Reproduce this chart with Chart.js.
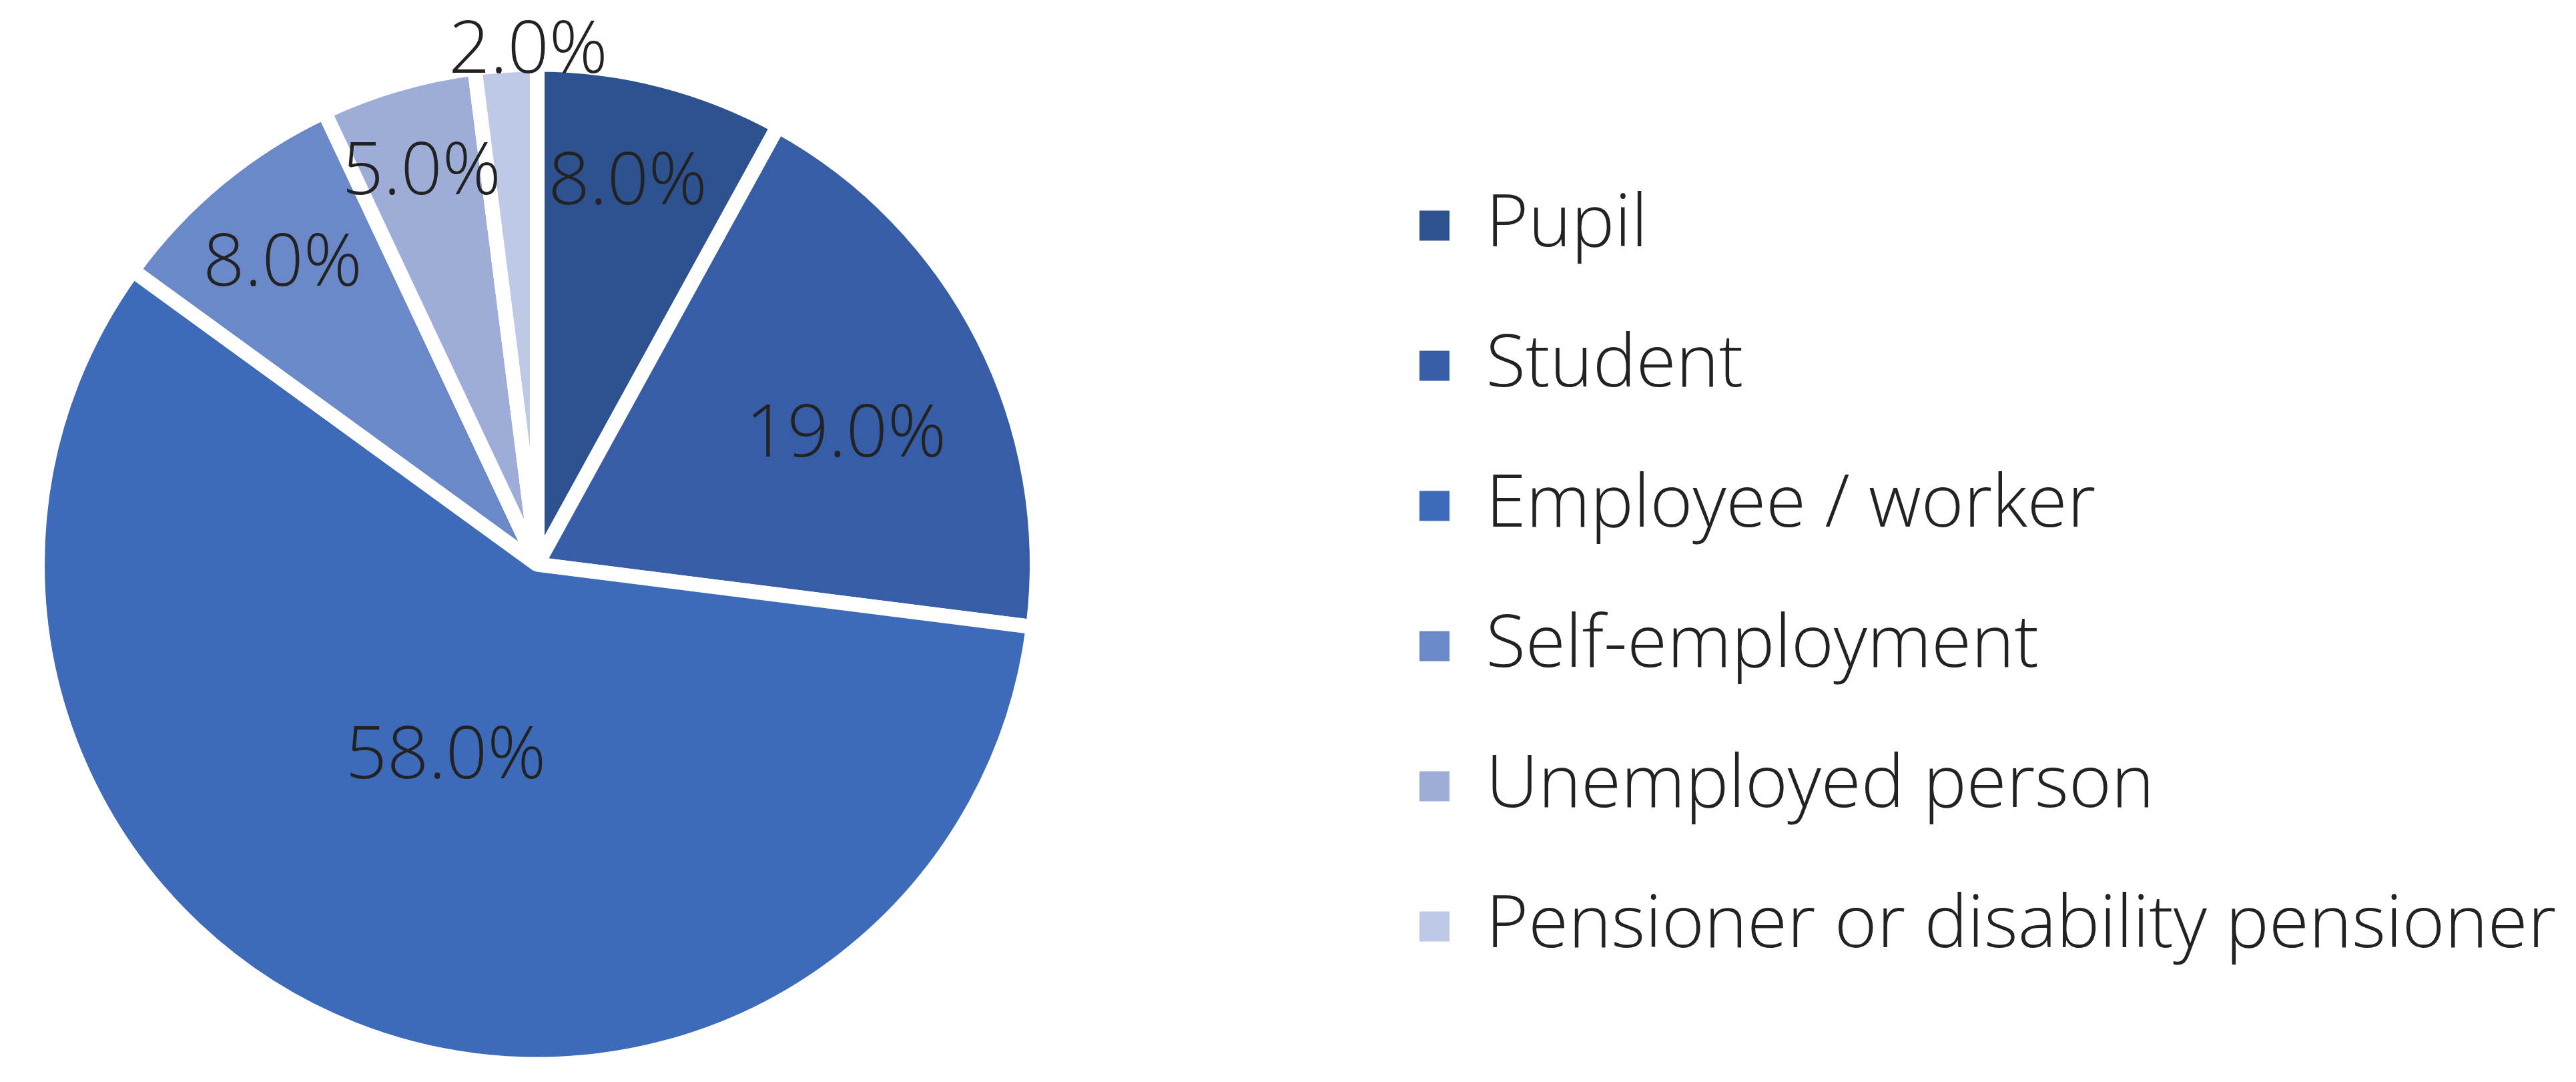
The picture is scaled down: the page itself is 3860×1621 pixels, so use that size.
<!DOCTYPE html>
<html>
<head>
<meta charset="utf-8">
<script src="https://cdn.jsdelivr.net/npm/chart.js@4.4.1/dist/chart.umd.min.js"></script>
<style>
  html, body { margin: 0; padding: 0; background: #ffffff; overflow: hidden; }
  #view { position: relative; width: 3860px; height: 1621px; overflow: hidden; }
  #c { display: block; position: absolute; top: 0; }
</style>
</head>
<body>
<div id="view"><canvas id="c"></canvas></div>
<script>
// ---- data ----
const categories = ['Pupil', 'Student', 'Employee / worker', 'Self-employment', 'Unemployed person', 'Pensioner or disability pensioner'];
const shares = [8.0, 19.0, 58.0, 8.0, 5.0, 2.0];

// ---- styles / layout ----
const sliceColors = ['#2E5290', '#375DA6', '#3D6BB9', '#6B88C9', '#9EADD8', '#BEC9E6'];
// label placement relative to each slice: [angle nudge in degrees, fraction of radius]
const labelNudge = [[-1.2, 0.793], [3.6, 0.673], [4.35, 0.418], [-0.3, 0.794], [-0.1, 0.825], [2.6, 1.035]];
const FONT_FAMILY = '"Open Sans", Lato, sans-serif';
const FONT_WEIGHT = 300;
const FS = 109;
const ITEM_PAD = 101;
const BOX = 45;
const TEXT_COLOR = '#222222';
const SHIFT = 416;            // canvas extends this far left of the view
const CANVAS_W = 3860 + SHIFT;
const CANVAS_H = 1621;

// right padding so the legend starts where the reference legend starts
const mctx = document.createElement('canvas').getContext('2d');
mctx.font = FONT_WEIGHT + ' ' + FS + 'px ' + FONT_FAMILY;
const maxTextW = Math.max(...categories.map(t => mctx.measureText(t).width));
const legendNatural = ITEM_PAD + BOX + FS / 2 + maxTextW + 10;
const legendLeft = 2026 + SHIFT;
const padRight = Math.max(0, CANVAS_W - legendLeft - legendNatural);

const cv = document.getElementById('c');
cv.width = CANVAS_W; cv.height = CANVAS_H;
cv.style.left = (-SHIFT) + 'px';

const sliceLabels = {
  id: 'sliceLabels',
  afterDatasetsDraw(chart) {
    const meta = chart.getDatasetMeta(0);
    const ctx = chart.ctx;
    ctx.save();
    ctx.font = FONT_WEIGHT + ' ' + FS + 'px ' + FONT_FAMILY;
    ctx.fillStyle = TEXT_COLOR;
    ctx.textAlign = 'center';
    ctx.textBaseline = 'alphabetic';
    meta.data.forEach((arc, i) => {
      const p = arc.getProps(['x', 'y', 'startAngle', 'endAngle', 'outerRadius'], true);
      const mid = (p.startAngle + p.endAngle) / 2 + labelNudge[i][0] * Math.PI / 180;
      const r = p.outerRadius * labelNudge[i][1];
      const x = p.x + Math.cos(mid) * r;
      const y = p.y + Math.sin(mid) * r;
      ctx.fillText(shares[i].toFixed(1) + '%', x, y + 0.357 * FS);
    });
    ctx.restore();
  }
};

const baseGen = Chart.overrides.doughnut.plugins.legend.labels.generateLabels;

new Chart(cv, {
  type: 'pie',
  data: {
    labels: categories,
    datasets: [{
      data: shares,
      backgroundColor: sliceColors,
      borderColor: '#ffffff',
      borderWidth: 22,
      hoverBorderWidth: 22,
      hoverOffset: 0
    }]
  },
  options: {
    responsive: false,
    animation: false,
    radius: 749,
    layout: { padding: { left: 0, right: padRight, top: 70, bottom: 0 } },
    plugins: {
      tooltip: { enabled: false },
      legend: {
        position: 'right',
        align: 'center',
        title: { display: true, text: '', font: { size: 10, lineHeight: 1 }, padding: { top: 25, bottom: 0 } },
        labels: {
          boxWidth: BOX,
          boxHeight: BOX,
          padding: ITEM_PAD,
          color: TEXT_COLOR,
          font: { family: FONT_FAMILY, size: FS, weight: FONT_WEIGHT },
          generateLabels(chart) {
            const items = baseGen(chart);
            items.forEach(it => { it.lineWidth = 0; it.strokeStyle = 'rgba(0,0,0,0)'; });
            return items;
          }
        }
      }
    }
  },
  plugins: [sliceLabels]
});
</script>
</body>
</html>
